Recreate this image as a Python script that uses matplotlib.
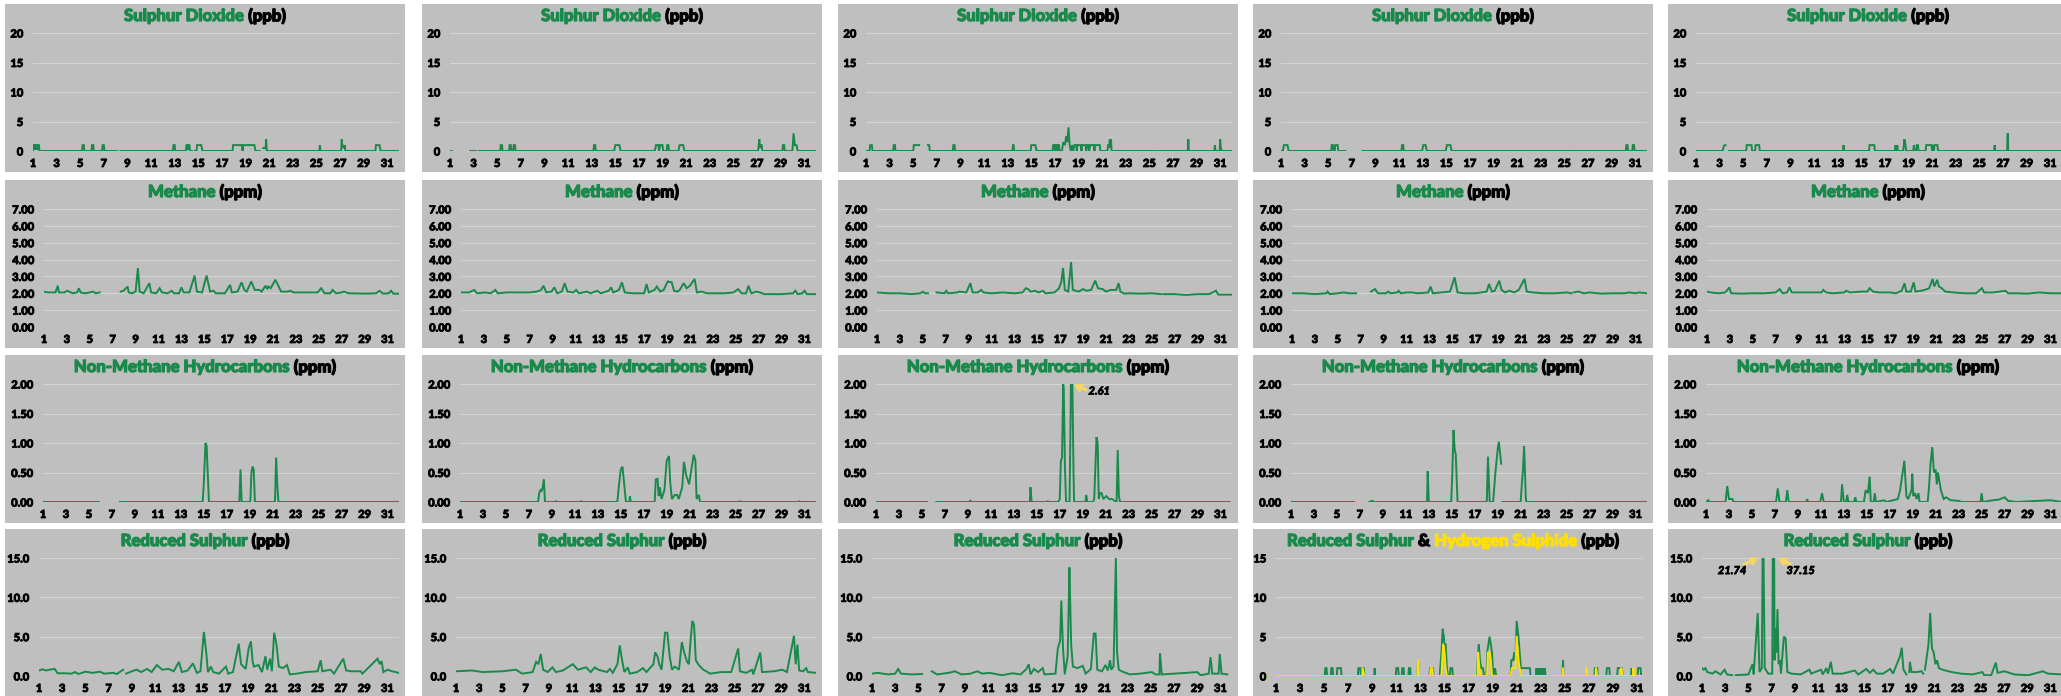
import numpy as np
import matplotlib
matplotlib.use("Agg")
import matplotlib.pyplot as plt
import matplotlib.patheffects as pe
from matplotlib.patches import Rectangle

nan = np.nan
FIG_W, FIG_H = 2061, 696

GREEN = "#1a8a4c"
YELLOW = "#ffe100"
PANEL_BG = "#bfbfbf"
GRID = "#d3d3d3"
ARROW = "#f6d666"
FONT = "Lato"
WEIGHT = 900

# ---- data: (day, value) pairs, nan = gap in record ----
so2_1 = [(1, 0), (1.05, 1), (1.15, 1), (1.2, 0.2), (1.25, 1), (1.35, 1), (1.4, 0.2), (1.45, 1), (1.5, 1), (1.55, 0),
         (5.15, 0), (5.2, 1), (5.3, 1), (5.35, 0), (5.95, 0), (6.0, 1), (6.1, 1), (6.15, 0), (6.85, 0), (6.9, 1),
         (7.0, 1), (7.05, 0), (8.1, 0), (8.2, nan), (8.4, 0), (12.85, 0), (12.9, 1), (13.0, 1), (13.05, 0),
         (13.95, 0), (14.0, 1), (14.1, 1), (14.15, 0.2), (14.2, 1), (14.25, 1), (14.3, 0), (14.45, 0), (14.55, nan),
         (14.7, 0), (14.85, 0), (14.9, 1), (15.25, 1), (15.35, 0), (17.9, 0), (17.95, 1), (18.7, 1), (18.75, 0),
         (18.8, 1), (19.75, 1), (19.85, 0), (20.2, 0), (20.3, nan), (20.5, 0.5), (20.7, 0.5), (20.75, 2), (20.8, 0),
         (25.25, 0), (25.3, 1), (25.35, 0), (27.1, 0), (27.15, 2), (27.2, 0.5), (27.25, 1), (27.35, 0.5), (27.4, 1),
         (27.45, 0), (30.0, 0), (30.05, 1), (30.35, 1), (30.45, 0), (32, 0)]
so2_2 = [(1, 0), (1.15, 0), (1.2, nan), (2.7, 0), (3.2, 0), (3.3, nan), (3.45, 0), (5.25, 0), (5.3, 1), (5.4, 1),
         (5.45, 0), (6.0, 0), (6.05, 1), (6.15, 1), (6.2, 0), (6.35, 0), (6.4, 1), (6.5, 1), (6.55, 0), (13.15, 0),
         (13.2, 1), (13.3, 1), (13.35, 0), (14.9, 0), (15.0, 1), (15.35, 1), (15.45, 0), (18.35, 0), (18.45, 1),
         (18.65, 1), (18.7, 0), (18.8, 1), (19.0, 1), (19.05, 0), (19.35, 0), (19.4, 1), (19.5, 1), (19.55, 0),
         (20.35, 0), (20.45, 1), (20.75, 1), (20.85, 0), (27.1, 0), (27.2, 2), (27.25, 0.5), (27.3, 1), (27.4, 1),
         (27.45, 0), (29.15, 0), (29.2, 1), (29.3, 1), (29.35, 0), (30.0, 0), (30.1, 3), (30.2, 1), (30.35, 1),
         (30.45, 0), (32, 0)]
so2_3 = [(1, 0), (1.3, 0), (1.35, 1), (1.5, 1), (1.55, 0), (3.3, 0), (3.35, 1), (3.45, 1), (3.5, 0), (5.0, 0),
         (5.05, 1), (5.5, 1), (5.55, nan), (6.25, 1), (6.35, 1), (6.4, 0), (8.35, 0), (8.4, 1), (8.5, 1), (8.55, 0),
         (13.4, 0), (13.45, 1), (13.5, 1), (13.55, 0), (14.95, 0), (15.0, 1), (15.35, 1), (15.45, 0), (16.8, 0),
         (16.85, 1), (16.95, 1), (17.0, 0), (17.05, 1), (17.15, 1), (17.2, 0), (17.25, 1), (17.35, 1), (17.4, 0),
         (17.6, 0), (17.7, 1.5), (17.85, 1), (17.95, 2.5), (18.05, 1.5), (18.15, 4), (18.25, 1), (18.35, 0),
         (18.45, 1), (18.55, 0), (18.65, 1), (18.8, 1), (18.85, 0), (18.9, 1), (19.2, 1), (19.25, 0), (19.3, 1),
         (19.6, 1), (19.65, 0), (19.75, 1), (19.85, 1), (19.9, 0), (20.0, 1), (20.3, 1), (20.35, 0), (20.4, 1),
         (20.8, 1), (20.85, 0), (21.45, 0), (21.5, 1), (21.6, 1), (21.65, 2), (21.7, 0.5), (21.75, 2), (21.8, 0),
         (25.55, 0), (25.6, nan), (25.75, 0), (28.25, 0), (28.3, 2), (28.35, 0), (30.5, 0), (30.55, 1), (30.6, 0),
         (30.95, 0), (31.0, 2), (31.05, 0.5), (31.15, 0), (32, 0)]
so2_4 = [(1, 0), (1.15, 0), (1.25, 1), (1.55, 1), (1.65, 0), (5.25, 0), (5.3, 1), (5.4, 1), (5.45, 0), (5.55, 0),
         (5.6, 1), (5.8, 1), (5.85, 0), (6.45, 0), (6.5, nan), (7.9, 0), (11.2, 0), (11.25, 1), (11.35, 1),
         (11.4, 0), (12.95, 0), (13.05, 1), (13.25, 1), (13.35, 0), (14.95, 0), (15.05, 1), (15.35, 1), (15.45, 0),
         (25.4, 0), (25.45, nan), (25.55, 0), (30.2, 0), (30.25, 1), (30.35, 1), (30.4, 0), (30.75, 0), (30.8, 1),
         (30.9, 1), (30.95, 0), (32, 0)]
so2_5 = [(1, 0), (3.25, 0), (3.35, 0.8), (3.45, 1), (3.5, 1), (3.55, nan), (3.8, 0), (5.25, 0), (5.3, 1), (5.7, 1),
         (5.75, 0), (6.0, 0), (6.05, 1), (6.35, 1), (6.4, 0), (13.45, 0), (13.5, 1), (13.55, 0), (15.65, 0),
         (15.7, 1), (16.1, 1), (16.15, 0), (17.85, 0), (17.9, 1), (17.95, 0), (18.05, 1), (18.1, 0), (18.55, 0),
         (18.65, 2), (18.75, 1), (18.8, 0), (19.4, 0), (19.45, 1), (19.5, 0), (19.65, 0), (19.7, 1), (19.8, 1),
         (19.85, 0), (20.45, 0), (20.5, 1), (20.95, 1), (21.0, 0), (21.05, 1), (21.15, 0), (21.2, 1), (21.45, 1),
         (21.5, 0), (26.25, 0), (26.3, 1), (26.35, 0), (27.35, 0), (27.4, 3), (27.45, 0), (32, 0)]

ch4_1 = [(1, 2.08), (1.4, 2.05), (2.0, 2.05), (2.2, 2.45), (2.3, 2.05), (2.8, 2.05), (3.0, 2.15), (3.2, 2.1),
         (3.5, 2.0), (3.9, 2.05), (4.05, 2.3), (4.2, 2.05), (4.6, 2.0), (5.0, 2.05), (5.3, 2.1), (5.5, 2.0),
         (5.85, 2.05), (5.9, nan), (7.7, 2.1), (7.95, 2.15), (8.15, 2.3), (8.3, 2.4), (8.4, 2.05), (8.7, 2.0),
         (9.0, 2.1), (9.2, 3.5), (9.35, 2.1), (9.7, 2.0), (10.2, 2.6), (10.35, 2.05), (10.8, 2.0), (11.1, 2.3),
         (11.3, 2.05), (11.8, 2.0), (12.15, 2.15), (12.35, 2.0), (12.8, 2.0), (13.0, 2.35), (13.2, 2.05),
         (13.7, 2.05), (14.15, 3.05), (14.35, 2.1), (14.8, 2.05), (15.2, 3.05), (15.5, 2.1), (15.8, 2.15),
         (16.0, 2.0), (16.8, 2.0), (17.25, 2.5), (17.4, 2.05), (17.9, 2.1), (18.25, 2.65), (18.5, 2.2), (18.7, 2.1),
         (19.1, 2.7), (19.4, 2.2), (19.8, 2.2), (20.0, 2.1), (20.35, 2.45), (20.5, 2.25), (20.6, 2.4), (20.8, 2.3),
         (21.2, 2.8), (21.5, 2.4), (21.7, 2.1), (22.3, 2.1), (22.5, 2.15), (22.8, 2.05), (24.0, 2.05), (24.9, 2.05),
         (25.2, 2.3), (25.5, 2.0), (26.0, 2.0), (26.2, 2.2), (26.5, 2.0), (27.0, 2.05), (27.2, 2.1), (27.6, 2.0),
         (29.0, 1.98), (30.0, 2.0), (30.3, 2.15), (30.6, 1.98), (31.1, 2.0), (31.3, 2.15), (31.5, 1.98), (32.2, 1.97)]
ch4_2 = [(1, 2.05), (1.7, 2.05), (2.15, 2.2), (2.4, 2.0), (3.1, 2.05), (3.6, 2.0), (4.0, 2.2), (4.2, 2.0), (5.0, 2.05),
         (6.0, 2.05), (7.0, 2.05), (7.6, 2.1), (8.0, 2.2), (8.2, 2.45), (8.45, 2.05), (8.9, 2.1), (9.15, 2.35),
         (9.4, 2.0), (9.8, 2.1), (10.05, 2.6), (10.3, 2.1), (10.8, 2.05), (11.05, 2.2), (11.3, 2.0), (12.0, 2.1),
         (12.3, 2.0), (12.9, 2.15), (13.2, 2.0), (13.9, 2.15), (14.1, 2.35), (14.3, 2.05), (14.8, 2.2), (15.05, 2.65),
         (15.3, 2.05), (16.0, 2.0), (17.0, 2.0), (17.2, 2.55), (17.4, 2.05), (17.9, 2.2), (18.1, 2.4), (18.4, 2.1),
         (18.7, 2.2), (19.05, 2.7), (19.4, 2.65), (19.6, 2.15), (19.9, 2.1), (20.1, 2.2), (20.45, 2.6), (20.7, 2.3),
         (21.0, 2.45), (21.4, 2.85), (21.6, 2.05), (22.0, 2.1), (22.5, 2.0), (24.0, 2.0), (24.8, 2.05), (25.2, 2.25),
         (25.5, 2.0), (25.9, 2.0), (26.1, 2.45), (26.35, 2.0), (26.8, 2.1), (27.1, 2.05), (27.5, 1.95), (29.0, 1.95),
         (30.0, 2.0), (30.2, 2.15), (30.4, 1.95), (30.8, 2.0), (31.0, 2.15), (31.2, 1.95), (32, 1.95)]
ch4_3 = [(1, 2.05), (2.0, 2.0), (3.0, 2.0), (4.0, 1.95), (4.8, 2.0), (5.0, 2.1), (5.2, 2.0), (5.45, 2.0), (5.5, nan),
         (6.2, 2.05), (6.9, 2.0), (7.05, 2.15), (7.2, 2.0), (8.0, 2.05), (8.2, 2.1), (8.8, 2.05), (9.15, 2.6),
         (9.35, 2.05), (9.8, 2.05), (10.1, 2.2), (10.3, 2.05), (11.0, 2.0), (12.0, 2.05), (13.0, 2.0), (13.7, 2.05),
         (14.0, 2.3), (14.2, 2.25), (14.4, 2.1), (14.8, 2.15), (15.1, 2.05), (15.5, 2.15), (15.7, 2.0), (16.5, 2.05),
         (16.9, 2.3), (17.1, 2.7), (17.25, 3.5), (17.4, 2.2), (17.7, 2.1), (17.95, 3.85), (18.1, 2.2), (18.6, 2.1),
         (19.0, 2.25), (19.3, 2.15), (19.7, 2.2), (20.05, 2.75), (20.3, 2.3), (20.7, 2.25), (21.0, 2.1), (21.4, 2.2),
         (21.9, 2.2), (22.1, 2.6), (22.25, 2.1), (22.6, 1.98), (23.0, 2.0), (24.0, 1.98), (25.0, 2.0), (25.8, 1.95),
         (25.85, nan), (26.0, 1.95), (27.0, 1.95), (28.0, 1.9), (29.0, 1.95), (30.0, 1.95), (30.6, 2.15),
         (30.8, 1.92), (32, 1.92)]
ch4_4 = [(1, 2.0), (2.0, 2.0), (3.0, 1.95), (4.0, 2.0), (4.1, 2.1), (4.3, 1.95), (5.0, 2.0), (5.5, 2.05), (6.0, 2.0),
         (6.6, 2.0), (6.65, nan), (7.9, 2.1), (8.25, 2.25), (8.5, 2.0), (9.2, 2.0), (9.4, 2.1), (9.6, 2.0),
         (10.2, 2.05), (10.3, 2.15), (10.5, 2.0), (11.0, 2.05), (11.5, 2.05), (12.0, 2.0), (12.9, 2.05), (13.1, 2.4),
         (13.3, 2.0), (14.0, 2.05), (14.8, 2.1), (15.2, 2.95), (15.45, 2.05), (16.0, 2.0), (17.0, 2.0), (17.5, 2.05),
         (18.0, 2.1), (18.2, 2.55), (18.45, 2.1), (18.7, 2.15), (19.1, 2.75), (19.3, 2.2), (19.6, 2.05), (20.0, 2.15),
         (20.4, 2.05), (20.8, 2.2), (21.3, 2.85), (21.5, 2.1), (22.0, 2.05), (23.0, 2.0), (24.0, 2.0), (25.0, 2.05),
         (25.4, 2.0), (25.45, nan), (25.6, 2.05), (26.0, 2.1), (26.5, 2.0), (27.0, 2.05), (28.0, 1.98), (29.0, 2.0),
         (30.0, 2.0), (30.5, 2.05), (31.0, 2.0), (31.3, 2.05), (32, 2.0)]
ch4_5 = [(1, 2.1), (1.3, 2.05), (2.0, 2.0), (2.6, 2.05), (2.95, 2.35), (3.1, 2.0), (4.0, 1.98), (5.0, 2.0),
         (6.0, 2.0), (7.0, 2.05), (7.35, 2.25), (7.6, 2.0), (8.0, 2.05), (8.2, 2.35), (8.4, 2.05), (9.0, 2.05),
         (10.0, 2.05), (11.0, 2.05), (11.15, 2.2), (11.4, 2.05), (12.0, 2.0), (13.0, 2.05), (13.15, 2.15),
         (13.5, 2.05), (14.5, 2.1), (15.0, 2.1), (15.2, 2.3), (15.5, 2.1), (16.0, 2.05), (17.0, 2.05), (17.5, 2.0),
         (18.0, 2.15), (18.25, 2.6), (18.4, 2.1), (18.8, 2.1), (19.05, 2.65), (19.2, 2.1), (19.7, 2.15), (20.0, 2.2),
         (20.4, 2.3), (20.7, 2.85), (20.85, 2.4), (21.1, 2.8), (21.25, 2.4), (21.5, 2.3), (21.8, 2.1), (22.5, 2.05),
         (23.5, 2.0), (24.5, 2.0), (25.0, 2.3), (25.2, 2.05), (26.0, 2.05), (27.05, 2.15), (27.3, 2.0), (28.0, 2.0),
         (29.0, 1.98), (30.0, 2.05), (31.0, 2.0), (32, 2.0)]

nmhc_1 = [(1, 0), (5.85, 0), (5.9, nan), (7.7, 0), (14.9, 0), (15.0, 0.3), (15.15, 1.0), (15.25, 0.95),
          (15.3, 0.7), (15.45, 0), (18.1, 0), (18.2, 0.55), (18.3, 0), (19.05, 0), (19.15, 0.5), (19.25, 0.6),
          (19.35, 0.55), (19.45, 0), (21.2, 0), (21.3, 0.75), (21.4, 0.3), (21.5, 0), (32.2, 0)]
nmhc_2 = [(1, 0), (3.3, 0), (3.35, nan), (3.45, 0), (7.8, 0), (7.9, 0.15), (8.0, 0.2), (8.1, 0.18), (8.2, 0.25),
          (8.3, 0.38), (8.4, 0), (9.3, 0), (9.35, 0.02), (9.4, 0), (11.5, 0), (11.55, 0.02), (11.6, 0), (14.7, 0),
          (14.85, 0.3), (15.0, 0.55), (15.15, 0.6), (15.3, 0.3), (15.45, 0), (15.75, 0), (15.8, 0.1), (15.85, 0),
          (17.95, 0), (18.05, 0.38), (18.2, 0.4), (18.3, 0.1), (18.4, 0.25), (18.55, 0.05), (18.8, 0.2), (19.0, 0.7),
          (19.2, 0.78), (19.3, 0.35), (19.45, 0.05), (19.7, 0.12), (19.9, 0.12), (20.05, 0.05), (20.35, 0.25),
          (20.5, 0.68), (20.7, 0.45), (20.95, 0.3), (21.15, 0.55), (21.35, 0.8), (21.5, 0.7), (21.6, 0.05),
          (21.8, 0.12), (21.9, 0), (25.3, 0), (25.35, 0.02), (25.4, 0), (30.5, 0), (30.55, 0.02), (30.6, 0), (32, 0)]
nmhc_3 = [(1, 0), (5.45, 0), (5.5, nan), (6.25, 0), (9.15, 0), (9.2, 0.03), (9.3, 0), (14.4, 0), (14.45, 0.25),
          (14.55, 0), (15.9, 0), (15.95, 0.02), (16.0, 0), (16.85, 0), (17.0, 0.05), (17.1, 0.7), (17.2, 0.75),
          (17.3, 2.0), (17.35, 1.9), (17.45, 0.6), (17.55, 0), (17.85, 0), (17.95, 1.5), (18.0, 2.61), (18.1, 2.0),
          (18.2, 0.5), (18.25, 0), (19.25, 0), (19.3, 0.12), (19.4, 0), (19.9, 0), (20.0, 0.05), (20.2, 1.1),
          (20.3, 1.0), (20.4, 0.05), (20.5, 0.15), (20.65, 0.15), (20.8, 0.05), (21.05, 0.1), (21.3, 0.05),
          (21.55, 0.05), (21.95, 0), (22.05, 0.88), (22.15, 0.1), (22.25, 0), (25.7, 0), (25.75, nan), (25.85, 0),
          (31.8, 0)]
nmhc_4 = [(1, 0), (6.5, 0), (6.55, nan), (7.8, 0), (8.1, 0.02), (8.2, 0), (12.85, 0), (12.9, 0.52), (13.0, 0),
          (14.95, 0), (15.05, 0.5), (15.15, 1.22), (15.25, 0.9), (15.35, 0.8), (15.5, 0), (18.05, 0), (18.15, 0.77),
          (18.3, 0), (18.6, 0), (18.8, 0.5), (19.0, 0.9), (19.1, 1.02), (19.3, 0.65), (19.35, nan), (19.4, 0),
          (21.0, 0), (21.1, 0.3), (21.2, 0.55), (21.3, 0.95), (21.45, 0.05), (21.5, 0), (25.3, 0), (25.35, nan),
          (25.5, 0), (32, 0)]
nmhc_5 = [(1, 0), (1.2, 0.03), (1.3, 0), (2.7, 0), (2.85, 0.27), (3.0, 0.05), (3.3, 0.05), (3.4, 0), (7.1, 0),
          (7.25, 0.23), (7.4, 0), (7.95, 0), (8.08, 0.2), (8.2, 0), (9.75, 0), (9.8, 0.05), (9.9, 0), (10.95, 0),
          (11.1, 0.15), (11.25, 0), (12.75, 0), (12.85, 0.3), (13.0, 0), (13.2, 0), (13.3, 0.12), (13.4, 0),
          (13.9, 0), (14.0, 0.08), (14.1, 0), (14.75, 0), (14.9, 0.2), (15.1, 0.15), (15.25, 0.43), (15.35, 0),
          (15.6, 0), (15.7, 0.15), (15.8, 0), (16.5, 0.03), (16.7, 0), (17.7, 0.05), (17.9, 0.2), (18.27, 0.7),
          (18.45, 0.1), (18.6, 0.05), (18.9, 0.2), (18.96, 0.48), (19.05, 0.1), (19.2, 0.15), (19.35, 0.05),
          (19.5, 0.15), (19.6, 0), (20.3, 0), (20.4, 0.2), (20.55, 0.65), (20.7, 0.93), (20.85, 0.5), (21.0, 0.55),
          (21.1, 0.3), (21.2, 0.5), (21.45, 0.2), (21.7, 0.05), (21.9, 0.08), (22.3, 0.03), (23.0, 0.02), (23.2, 0),
          (24.9, 0), (25.0, 0.15), (25.1, 0), (26.0, 0.03), (26.5, 0.04), (27.0, 0.08), (27.3, 0.02), (28.0, 0),
          (30.0, 0.02), (31.0, 0.03), (32, 0)]

rs_1 = [(1, 0.7), (1.3, 0.85), (1.6, 0.7), (1.9, 0.8), (2.35, 0.9), (2.6, 0.35), (3.2, 0.35), (3.8, 0.3), (4.1, 0.5),
        (4.4, 0.25), (5.0, 0.55), (5.6, 0.4), (6.25, 0.55), (6.6, 0.3), (7.4, 0.4), (7.7, 0.25), (8.25, 0.8),
        (8.35, nan), (8.5, 0.3), (9.0, 0.6), (9.4, 0.8), (9.8, 0.5), (10.3, 0.9), (10.7, 0.5), (11.15, 1.4),
        (11.6, 0.8), (12.15, 0.9), (12.6, 0.6), (13.05, 1.8), (13.3, 0.5), (13.8, 0.7), (14.25, 1.6), (14.6, 0.4),
        (14.9, 0.6), (15.2, 5.6), (15.4, 3.0), (15.55, 0.5), (15.8, 1.2), (16.0, 0.5), (16.5, 0.3), (17.1, 1.2),
        (17.3, 0.3), (17.7, 0.5), (18.2, 4.1), (18.4, 1.5), (18.8, 0.9), (19.05, 3.5), (19.25, 4.4), (19.4, 1.8),
        (19.5, 1.2), (19.9, 1.4), (20.2, 0.5), (20.5, 2.5), (20.65, 0.8), (20.9, 2.2), (21.05, 0.6), (21.25, 5.5),
        (21.45, 4.0), (21.65, 1.2), (22.0, 1.0), (22.35, 1.4), (22.6, 0.2), (23.2, 0.3), (24.0, 0.5), (25.0, 0.6),
        (25.25, 2.0), (25.4, 0.6), (26.1, 0.8), (26.4, 0.3), (27.2, 2.2), (27.45, 0.7), (27.9, 0.6), (28.7, 0.6),
        (28.85, 0.3), (30.15, 2.2), (30.35, 1.5), (30.5, 1.9), (30.65, 0.5), (31.0, 0.8), (31.4, 0.6), (32, 0.4)]
rs_2 = [(1, 0.6), (2.4, 0.7), (3.3, 0.5), (4.1, 0.55), (5.0, 0.6), (6.15, 0.8), (6.7, 0.3), (7.6, 0.5), (7.9, 1.8),
        (8.1, 1.5), (8.3, 2.8), (8.5, 0.8), (8.9, 0.5), (9.3, 1.1), (9.6, 0.5), (10.2, 0.7), (11.05, 1.5),
        (11.5, 0.8), (12.2, 1.1), (12.6, 0.5), (12.95, 1.1), (13.25, 0.8), (14.0, 0.5), (14.25, 0.9), (14.5, 0.4),
        (14.9, 1.5), (15.1, 3.9), (15.3, 2.0), (15.5, 0.5), (15.8, 1.1), (15.95, 0.3), (16.6, 0.5), (17.1, 1.0),
        (17.4, 0.5), (18.0, 1.5), (18.15, 3.0), (18.35, 2.5), (18.5, 1.5), (18.7, 0.8), (19.0, 5.5), (19.2, 5.5),
        (19.4, 2.5), (19.6, 0.8), (19.85, 1.2), (20.2, 0.8), (20.45, 4.3), (20.65, 3.0), (20.9, 1.8), (21.05, 1.5),
        (21.2, 4.5), (21.35, 7.0), (21.5, 6.5), (21.65, 2.0), (21.9, 1.4), (22.3, 0.8), (22.9, 0.3), (23.8, 0.5),
        (24.7, 0.5), (25.3, 3.5), (25.45, 0.6), (26.0, 0.4), (26.5, 0.8), (26.6, 0.2), (27.2, 3.0), (27.35, 0.5),
        (28.4, 0.6), (29.1, 0.8), (29.5, 0.5), (30.1, 5.1), (30.25, 1.5), (30.4, 4.0), (30.55, 0.7), (30.9, 0.6),
        (31.15, 1.0), (31.3, 0.5), (32, 0.4)]
rs_3 = [(1, 0.3), (1.5, 0.4), (2.4, 0.2), (3.0, 0.3), (3.25, 0.9), (3.5, 0.3), (4.4, 0.2), (5.3, 0.25), (5.35, nan),
        (6.15, 0.6), (6.6, 0.2), (7.6, 0.4), (8.15, 0.6), (8.7, 0.2), (9.5, 0.3), (10.05, 0.6), (10.5, 0.3),
        (11.1, 0.4), (12.2, 0.1), (13.1, 0.35), (13.8, 0.2), (14.3, 0.9), (14.5, 1.5), (14.65, 0.2), (14.95, 0.9),
        (15.3, 0.5), (15.7, 1.0), (15.85, 0.2), (16.8, 0.3), (17.0, 3.5), (17.2, 4.5), (17.3, 9.6), (17.45, 3.5),
        (17.6, 0.2), (17.85, 2.5), (17.95, 10.0), (18.0, 13.8), (18.15, 4.0), (18.3, 1.2), (18.7, 1.0), (19.15, 1.3),
        (19.4, 0.3), (19.85, 0.9), (20.1, 5.4), (20.25, 5.4), (20.4, 0.8), (20.8, 0.6), (21.1, 1.4), (21.3, 0.7),
        (21.5, 2.0), (21.6, 0.8), (21.8, 1.2), (22.0, 15.0), (22.1, 3.0), (22.25, 0.8), (22.5, 0.6), (23.2, 0.2),
        (24.1, 0.3), (25.1, 0.5), (25.4, 0.2), (25.75, 0.2), (25.8, 2.9), (25.95, 0.2), (27.0, 0.3), (28.1, 0.4),
        (29.0, 0.5), (29.3, 0.1), (30.0, 0.3), (30.15, 2.4), (30.3, 0.3), (30.85, 0.3), (30.95, 2.8), (31.1, 0.3),
        (31.6, 0.2)]
rs_4 = [(1, 0), (5.05, 0), (5.1, 1), (5.2, 1), (5.25, 0), (5.55, 0), (5.6, 1), (5.7, 1), (5.75, 0), (6.05, 0),
        (6.1, 1), (6.4, 1), (6.45, 0), (7.8, 0), (7.85, 1), (8.0, 1), (8.05, 0), (8.15, 0), (8.2, 1), (8.3, 1),
        (8.35, 0), (9.15, 0), (9.2, 1), (9.25, 0), (10.95, 0), (11.0, 1), (11.15, 1), (11.2, 0), (11.45, 0),
        (11.5, 1), (11.6, 1), (11.65, 0), (12.0, 0), (12.05, 1), (12.15, 1), (12.2, 0), (12.75, 0), (12.8, 2),
        (12.9, 0), (13.75, 0), (13.8, 1), (14.05, 1), (14.1, 0), (14.6, 0), (14.65, 1), (14.75, 3), (14.85, 6),
        (14.95, 5), (15.0, 4), (15.1, 4), (15.2, 1), (15.3, 0), (15.45, 0), (15.5, 1), (15.65, 1), (15.7, 0),
        (17.7, 0), (17.8, 3), (17.85, 4), (17.95, 2), (18.05, 1), (18.2, 1), (18.3, 0), (18.5, 0), (18.55, 3),
        (18.65, 4), (18.75, 5), (18.85, 4), (18.95, 3), (19.05, 0), (19.2, 1), (19.3, 0), (20.5, 0), (20.55, 2),
        (20.7, 2), (20.8, 3), (20.9, 2), (21.0, 7), (21.15, 5), (21.25, 3), (21.35, 1), (21.6, 1), (22.1, 1),
        (22.15, 0), (22.6, 0), (22.65, 1), (22.7, 0), (22.75, 1), (22.8, 0), (22.85, 1), (22.9, 0), (22.95, 1),
        (23.0, 0), (23.05, 1), (23.1, 0), (23.15, 1), (23.2, 0), (23.25, 1), (23.3, 0), (23.35, 1), (23.4, 0),
        (24.8, 0), (24.85, 2), (24.9, 0), (27.45, 0), (27.5, 1), (27.7, 1), (27.75, 0), (28.45, 0), (28.5, 1),
        (28.7, 1), (28.75, 0), (29.35, 0), (29.4, 1), (29.75, 1), (29.8, 0), (30.5, 0), (30.55, 1), (30.65, 0),
        (31.05, 0), (31.1, 1), (31.3, 1), (31.35, 0), (31.8, 0)]
h2s_4 = [(1, 0), (8.15, 0), (8.2, 1), (8.35, 0), (12.75, 0), (12.8, 2), (12.9, 0), (13.8, 0), (13.85, 1), (14.0, 1),
         (14.05, 0), (14.75, 0), (14.85, 3), (14.9, 4), (15.0, 3), (15.1, 1), (15.2, 0), (17.75, 0), (17.8, 3),
         (17.9, 1), (18.0, 0), (18.55, 0), (18.6, 3), (18.75, 3), (18.85, 2), (18.95, 0), (20.5, 0), (20.6, 1),
         (20.9, 1), (21.0, 5), (21.15, 2), (21.25, 1), (21.35, 0), (24.8, 0), (24.85, 1), (24.9, 0), (26.75, 0),
         (26.8, 1), (26.85, 0), (27.55, 0), (27.6, 1), (27.7, 0), (29.65, 0), (29.7, 1), (29.8, 0), (30.65, 0),
         (30.7, 1), (30.8, 0), (31.8, 0)]
rs_5 = [(1, 1.0), (1.15, 0.8), (1.3, 1.0), (1.45, 0.5), (1.9, 0.3), (2.15, 0.6), (2.6, 0.2), (2.95, 0.8), (3.15, 0.2),
        (3.6, 0.1), (3.65, nan), (3.9, 0.1), (5.0, 0.2), (5.35, 1.5), (5.45, 0.2), (5.8, 8.0), (5.95, 0.5),
        (6.15, 1.0), (6.25, 21.74), (6.4, 1.0), (6.7, 0.3), (7.05, 0.3), (7.15, 37.15), (7.25, 2.0), (7.3, 6.0),
        (7.4, 3.0), (7.5, 8.5), (7.6, 1.5), (7.7, 2.0), (7.8, 0.3), (8.05, 5.0), (8.2, 4.8), (8.35, 0.5), (8.7, 0.3),
        (9.5, 0.2), (10.25, 0.8), (10.4, 0.3), (11.25, 0.8), (11.4, 0.2), (11.7, 1.0), (11.85, 0.3), (12.1, 1.8),
        (12.25, 0.3), (13.1, 0.3), (14.15, 0.7), (14.45, 0.2), (15.15, 0.9), (15.45, 0.4), (15.75, 0.8),
        (16.05, 0.3), (16.6, 0.3), (17.2, 0.9), (17.45, 0.3), (18.05, 2.5), (18.2, 3.6), (18.35, 0.8), (18.6, 0.2),
        (18.75, nan), (18.85, 0.5), (18.9, 1.8), (19.05, 0.5), (19.5, 0.5), (19.9, 0.6), (20.05, 0.3), (20.15, nan),
        (20.2, 0.8), (20.5, 4.0), (20.65, 8.0), (20.8, 3.5), (20.95, 3.0), (21.1, 1.5), (21.25, 2.0), (21.4, 1.0),
        (21.7, 0.8), (22.5, 0.5), (23.3, 0.3), (24.3, 0.2), (25.15, 0.5), (25.3, 0.1), (25.9, 0.1), (26.3, 1.7),
        (26.45, 0.4), (27.05, 0.6), (27.9, 0.2), (29.1, 0.1), (30.35, 0.6), (30.8, 0.3), (32, 0.2)]

day_ticks = list(range(1, 32, 2))

so2_row = [so2_1, so2_2, so2_3, so2_4, so2_5]
ch4_row = [ch4_1, ch4_2, ch4_3, ch4_4, ch4_5]
nmhc_row = [nmhc_1, nmhc_2, nmhc_3, nmhc_4, nmhc_5]
rs_row = [rs_1, rs_2, rs_3, rs_4, rs_5]

rows = [
    dict(data=so2_row, name="Sulphur Dioxide", unit="(ppb)", ymax=20, yticks=[0, 5, 10, 15, 20], fmt="{:.0f}", lpad=28),
    dict(data=ch4_row, name="Methane", unit="(ppm)", ymax=7, yticks=list(range(8)), fmt="{:.2f}", lpad=39),
    dict(data=nmhc_row, name="Non-Methane Hydrocarbons", unit="(ppm)", ymax=2, yticks=[0, 0.5, 1, 1.5, 2],
         fmt="{:.2f}", lpad=38),
    dict(data=rs_row, name="Reduced Sulphur", unit="(ppb)", ymax=15, yticks=[0, 5, 10, 15], fmt="{:.1f}", lpad=34),
]

col_left = [5, 422, 838, 1253, 1668]
row_top = [4, 180, 355, 529]
PANEL_W, PANEL_H = 400, 168


def unzip(pairs):
    a = np.array(pairs, dtype=float)
    return a[:, 0], a[:, 1]


def heavy(color, w=0.7):
    # Lato tops out at bold here; a thin same-colour stroke gives the black weight of the original
    return [pe.withStroke(linewidth=w, foreground=color)]


def draw_title(fig, xc, yc, parts, size=12):
    renderer = fig.canvas.get_renderer()
    probe = fig.text(0, 0, "x x", fontsize=size, fontweight=WEIGHT, family=FONT)
    probe2 = fig.text(0, 0, "xx", fontsize=size, fontweight=WEIGHT, family=FONT)
    gap = probe.get_window_extent(renderer).width - probe2.get_window_extent(renderer).width
    probe.remove()
    probe2.remove()
    items = []
    for s, c in parts:
        items.append(fig.text(0, 1 - yc / FIG_H, s, color=c, fontsize=size, fontweight=WEIGHT,
                              family=FONT, va="center", ha="left", path_effects=heavy(c, 0.9)))
    widths = [t.get_window_extent(renderer).width for t in items]
    x = xc - (sum(widths) + gap * (len(items) - 1)) / 2
    for t, w in zip(items, widths):
        t.set_x(x / FIG_W)
        x += w + gap


def flag(ax, text, head, tail, where, ha):
    # short yellow pointer to an off-scale peak, with its value
    ax.annotate("", xy=head, xytext=tail,
                arrowprops=dict(arrowstyle="-|>,head_length=0.45,head_width=0.25", color=ARROW, lw=2.2,
                                mutation_scale=8, shrinkA=0, shrinkB=0),
                annotation_clip=False)
    ax.text(where[0], where[1], text, fontsize=8, fontweight=WEIGHT, style="italic", family=FONT,
            va="center", ha=ha, path_effects=heavy("black", 0.5))


fig = plt.figure(figsize=(FIG_W / 100, FIG_H / 100), dpi=100)
fig.patch.set_facecolor("white")

for r, spec in enumerate(rows):
    for c in range(5):
        L, T = col_left[c], row_top[r]
        fig.patches.append(Rectangle((L / FIG_W, 1 - (T + PANEL_H) / FIG_H), PANEL_W / FIG_W, PANEL_H / FIG_H,
                                     transform=fig.transFigure, facecolor=PANEL_BG, edgecolor="none", zorder=-5))
        special = (r == 3 and c == 3)
        lpad = 23 if special else spec["lpad"]
        right = 390 if special else 394
        x0, x1 = L + lpad, L + right
        y0, y1 = T + 29, T + 147
        ax = fig.add_axes([x0 / FIG_W, 1 - y1 / FIG_H, (x1 - x0) / FIG_W, (y1 - y0) / FIG_H])
        ax.set_facecolor("none")
        for sp in ax.spines.values():
            sp.set_visible(False)
        ax.set_xlim(1, 31.5 if special else 32)
        ax.set_ylim(0, spec["ymax"])
        ax.set_yticks(spec["yticks"])
        fmt = "{:.0f}" if special else spec["fmt"]
        ax.set_yticklabels([fmt.format(v) for v in spec["yticks"]])
        ax.set_xticks(day_ticks)
        ax.set_xticklabels([str(d) for d in day_ticks])
        ax.tick_params(length=0, labelsize=8, pad=5)
        ax.tick_params(axis="y", pad=7)
        for lab in ax.get_xticklabels() + ax.get_yticklabels():
            lab.set_fontweight(WEIGHT)
            lab.set_family(FONT)
            lab.set_path_effects(heavy("black", 0.6))
        ax.grid(axis="y", color=GRID, lw=0.8)
        ax.set_axisbelow(True)

        xs, ys = unzip(spec["data"][c])
        ax.plot(xs, ys, color=GREEN, lw=1.4, solid_joinstyle="miter", zorder=3)
        if special:
            hx, hy = unzip(h2s_4)
            ax.plot(hx, hy, color=YELLOW, lw=1.4, zorder=4)
            parts = [("Reduced Sulphur", GREEN), ("&", "black"), ("Hydrogen Sulphide", YELLOW), (spec["unit"], "black")]
        else:
            parts = [(spec["name"], GREEN), (spec["unit"], "black")]
        draw_title(fig, L + PANEL_W / 2, T + 12, parts)

        # off-scale peaks
        if r == 2 and c == 2:
            peak = np.nanmax(ys)
            flag(ax, f"{peak:.2f}", (18.2, 1.99), (19.3, 1.9), (19.5, 1.88), "left")
        if r == 3 and c == 4:
            big = sorted(ys[~np.isnan(ys)])[-2:]
            flag(ax, f"{big[0]:.2f}", (5.9, 15.0), (4.6, 14.2), (3.6, 13.4), "center")
            flag(ax, f"{big[1]:.2f}", (7.5, 15.0), (8.6, 14.2), (9.5, 13.4), "center")

fig.savefig("out.png", dpi=100, facecolor=fig.get_facecolor())
